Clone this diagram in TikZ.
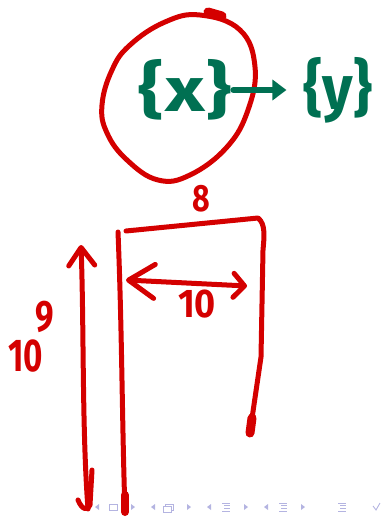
\documentclass[tikz,border=0pt]{standalone}
\usepackage{fontspec}
\setmainfont{Fira Sans}
\usetikzlibrary{arrows.meta}
\definecolor{inkred}{RGB}{212,0,0}
\definecolor{inkgreen}{RGB}{0,112,82}
\definecolor{navblue}{RGB}{180,180,225}
\begin{document}
\begin{tikzpicture}[x=1pt,y=-1pt,
  ink/.style={draw=inkred,line width=5pt,line cap=round,line join=round},
  greenink/.style={draw=inkgreen,line width=6pt,line cap=round},
  redtext/.style={text=inkred,font=\bfseries\fontsize{40}{40}\selectfont,inner sep=0pt},
  greentext/.style={text=inkgreen,font=\bfseries\fontsize{62}{62}\selectfont,inner sep=0pt},
  nav/.style={fill=navblue,draw=none},
  navline/.style={draw=navblue,line width=0.9pt}]
\useasboundingbox (0,0) rectangle (381,518);

% circle around {x}
\draw[ink] plot[smooth cycle,tension=0.7] coordinates {(200,15) (240,30) (255,67) (248,110) (227,147) (190,175) (158,180) (127,160) (107,133) (102,105) (112,70) (130,45) (165,22)};
\draw[draw=inkred,line width=9pt,line cap=round] (208,12) -- (222,16);

% sets
\node[greentext] (sx) at (185,90) {\scalebox{1.25}[1]{\{x\}}};
\node[greentext] (sy) at (338,90) {\scalebox{0.95}[1]{\{y\}}};
\draw[greenink,-{Triangle[length=14pt,width=20pt]}] ([xshift=2pt]sx.east) -- ([xshift=-17pt]sy.west);

% label 8
\node[redtext,font=\bfseries\fontsize{38}{38}\selectfont] (eight) at (201,199) {\scalebox{0.8}[1]{8}};

% box
\coordinate (tl) at (126,231);
\coordinate (tr) at (258,218);
\coordinate (rb) at (250,432);
\draw[ink] (tl) -- (tr) .. controls (266,224) and (264,238) .. (263,250) -- (261,357) -- (rb);
\draw[draw=inkred,line width=9pt,line cap=round] (252,418) -- (250,433);

% left wall
\coordinate (lt) at (118,232);
\coordinate (lb) at (125,512);
\draw[ink] (lt) .. controls (122,330) and (122,420) .. (lb);
\draw[draw=inkred,line width=8pt,line cap=round] (125,495) -- (125,512);

% width arrow
\coordinate (wa) at (126,280);
\coordinate (wb) at (247,286);
\draw[ink,{Straight Barb[round,length=26pt,width=34pt]}-{Straight Barb[round,length=11pt,width=24pt]}] (wa) -- (wb);
\node[redtext] (ten) at (197,304) {\scalebox{0.9}[1]{10}};

% height arrow
\coordinate (ha) at (81,245);
\coordinate (hb) at (88,509);
\draw[ink,{Straight Barb[round,length=18pt,width=26pt]}-] (ha) .. controls (84,330) and (82,430) .. (hb);
\draw[ink] (92,470) -- (90,505) .. controls (88,511) and (82,510) .. (78,500);
\node[redtext,font=\bfseries\fontsize{46}{46}\selectfont] (tenl) at (26,356) {\scalebox{0.72}[1]{10}};
\node[redtext,font=\bfseries\fontsize{44}{44}\selectfont] (nine) at (45,317) {\scalebox{0.75}[1]{9}};

% navigation symbols
\begin{scope}[yshift=-507pt]
\fill[nav] (99,-3) -- (95,0) -- (99,3) -- cycle;
\draw[navline] (109,-3) rectangle (117,3);
\fill[nav] (131,-3) -- (135,0) -- (131,3) -- cycle;
\fill[nav] (155,-3) -- (151,0) -- (155,3) -- cycle;
\draw[navline] (163,-1) rectangle (171,5);
\draw[navline] (165,-1) -- (165,-3) -- (173,-3) -- (173,3) -- (171,3);
\fill[nav] (187,-3) -- (191,0) -- (187,3) -- cycle;
\fill[nav] (211,-3) -- (207,0) -- (211,3) -- cycle;
\draw[navline] (222,-4) -- (230,-4) (224,-1.3) -- (230,-1.3) (224,1.3) -- (230,1.3) (222,4) -- (230,4);
\fill[nav] (244,-3) -- (248,0) -- (244,3) -- cycle;
\fill[nav] (268,-3) -- (264,0) -- (268,3) -- cycle;
\draw[navline] (279,-4) -- (287,-4) (281,-1.3) -- (287,-1.3) (281,1.3) -- (287,1.3) (279,4) -- (287,4);
\fill[nav] (301,-3) -- (305,0) -- (301,3) -- cycle;
\draw[navline] (338,-4) -- (346,-4) (340,-1.3) -- (346,-1.3) (340,1.3) -- (346,1.3) (338,4) -- (346,4);
\draw[navline] (373,-1) -- (376,3) -- (380,-4);
\end{scope}
\end{tikzpicture}
\end{document}
